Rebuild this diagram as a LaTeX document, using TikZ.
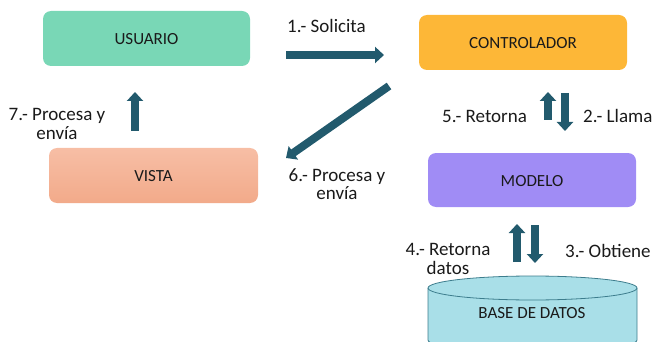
\documentclass[tikz,border=0pt]{standalone}
\usepackage{fontspec}
\setmainfont{Carlito}
\usetikzlibrary{arrows.meta}
\definecolor{cUser}{HTML}{79D7B6}
\definecolor{cVistaT}{HTML}{F7BEA5}
\definecolor{cVistaB}{HTML}{F2AA8A}
\definecolor{cCtrl}{HTML}{FDB737}
\definecolor{cModel}{HTML}{A08CF5}
\definecolor{cDb}{HTML}{A9DFE8}
\definecolor{cDbLine}{HTML}{3D7D8D}
\definecolor{cArrow}{HTML}{225A6D}
\definecolor{cText}{HTML}{1A1A1A}
\newcommand{\twolines}[2]{\begin{tabular}{@{}c@{}}#1\\#2\end{tabular}}
\tikzset{
  boxlabel/.style={font=\fontsize{17}{20}\selectfont, text=cText},
  lbl/.style={font=\fontsize{19}{18}\selectfont, text=cText, inner sep=0pt},
  blockarrow/.style={draw=cArrow, line width=8pt, -{Triangle[width=16pt,length=9pt]}},
  rbox/.style={rounded corners=8pt}
}
\begin{document}
\begin{tikzpicture}[x=1pt,y=-1pt]
\useasboundingbox (0,0) rectangle (653,342);
\clip (0,0) rectangle (653,342);
% boxes
\fill[cUser, rbox] (43,11) rectangle (250,66);
\node[boxlabel] (usuario) at (146.5,39) {USUARIO};
\shade[rbox, top color=cVistaT, bottom color=cVistaB] (49,148) rectangle (258,203);
\node[boxlabel] (vista) at (153.5,176) {VISTA};
\fill[cCtrl, rbox] (419,15) rectangle (627,70);
\node[boxlabel] (ctrl) at (523,43) {CONTROLADOR};
\fill[cModel, rbox] (428,153) rectangle (636,207);
\node[boxlabel] (modelo) at (532,181) {MODELO};
% cylinder
\filldraw[fill=cDb, draw=cDbLine, line width=0.8pt]
  (428,288) -- (428,340) arc[start angle=180, end angle=360, x radius=104.5, y radius=-12] -- (637,288)
  arc[start angle=0, end angle=180, x radius=104.5, y radius=-12] -- cycle;
\draw[draw=cDbLine, line width=0.8pt] (428,288) arc[start angle=180, end angle=360, x radius=104.5, y radius=-12];
\node[boxlabel] (db) at (532,313) {BASE DE DATOS};
% arrow coordinates
\coordinate (a1s) at (286,55);
\coordinate (a1e) at (384,55);
\coordinate (a6s) at (389,86);
\coordinate (a6e) at (286,158);
\coordinate (a7s) at (135,131);
\coordinate (a7e) at (135,92);
\coordinate (a5s) at (548,120);
\coordinate (a5e) at (548,92);
\coordinate (a2s) at (565,93);
\coordinate (a2e) at (565,131);
\coordinate (a4s) at (517,262);
\coordinate (a4e) at (517,224);
\coordinate (a3s) at (535,225);
\coordinate (a3e) at (535,263);
\draw[blockarrow] (a1s) -- (a1e);
\draw[blockarrow] (a6s) -- (a6e);
\draw[blockarrow] (a7s) -- (a7e);
\draw[blockarrow] (a5s) -- (a5e);
\draw[blockarrow] (a2s) -- (a2e);
\draw[blockarrow] (a4s) -- (a4e);
\draw[blockarrow] (a3s) -- (a3e);
% labels
\node[lbl, anchor=base west] (l1) at (287,33) {1.- Solicita};
\node[lbl, anchor=base west] (l5) at (442,123) {5.- Retorna};
\node[lbl, anchor=base west] (l2) at (583,123) {2.- Llama};
\node[lbl, anchor=base west] (l3) at (565,257) {3.- Obtiene};
\node[lbl, anchor=north] (l6) at (337,168) {\twolines{6.- Procesa y}{envía}};
\node[lbl, anchor=north] (l7) at (57,108) {\twolines{7.- Procesa y}{envía}};
\node[lbl, anchor=north] (l4) at (448,243) {\twolines{4.- Retorna}{datos}};
\end{tikzpicture}
\end{document}
